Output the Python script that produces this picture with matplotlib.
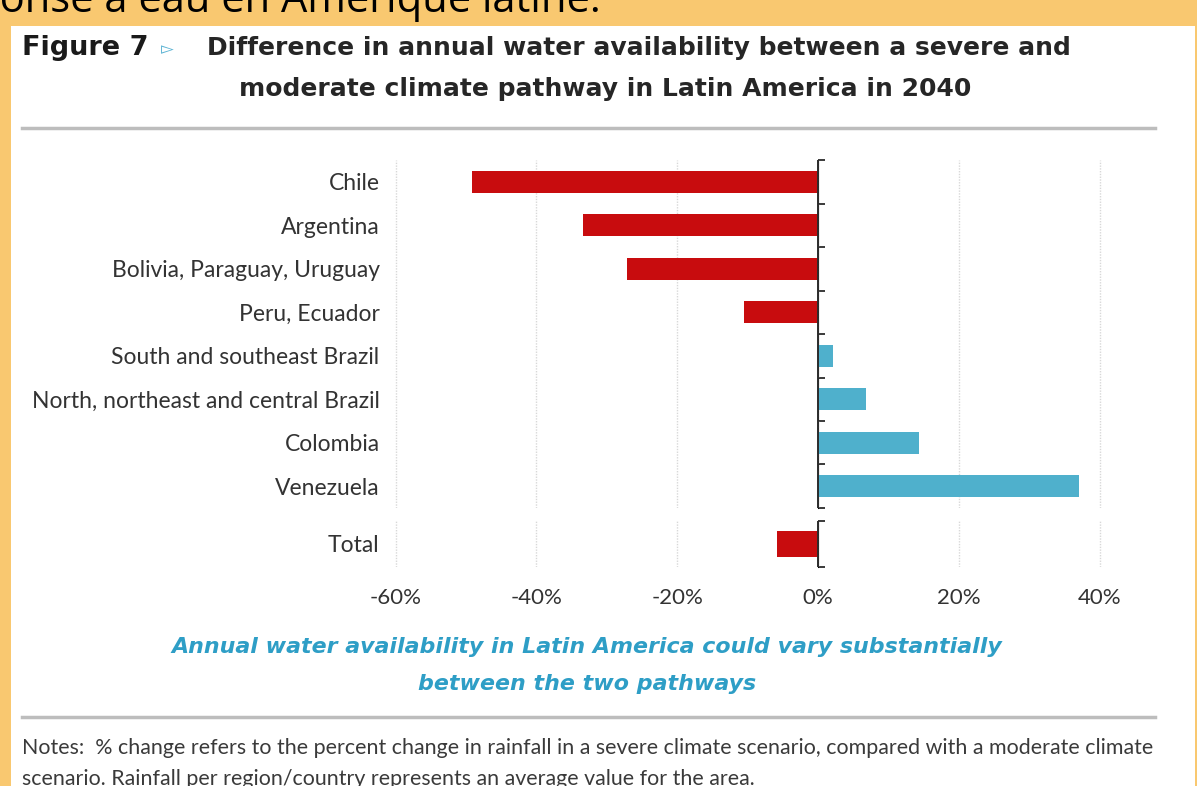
import matplotlib
matplotlib.use("Agg")
import matplotlib.pyplot as plt
from matplotlib.patches import Rectangle
from matplotlib.lines import Line2D
import numpy as np

categories = ["Chile", "Argentina", "Bolivia, Paraguay, Uruguay", "Peru, Ecuador",
              "South and southeast Brazil", "North, northeast and central Brazil",
              "Colombia", "Venezuela"]
values = [-49.2, -33.4, -27.2, -10.5, 2.1, 6.8, 14.4, 37.1]
total_label = "Total"
total_value = [-5.8]
xticks = [-60, -40, -20, 0, 20, 40]
xtick_labels = ["-60%", "-40%", "-20%", "0%", "20%", "40%"]

RED = "#C80C0E"
BLUE = "#4FB0CC"
ORANGE = "#F9C870"
W, H = 1197, 786

fig = plt.figure(figsize=(W / 100, H / 100), dpi=100)
fig.patch.set_facecolor(ORANGE)

def fx(px):
    return px / W

def fy(py):
    return 1 - py / H

# white panel
fig.patches.append(Rectangle((fx(11), 0), fx(1195 - 11), fy(26), transform=fig.transFigure,
                             facecolor="white", edgecolor="none", zorder=-5))

# cropped top text
fig.text(fx(-75), fy(1), "Réponse à eau en Amérique latine.", fontsize=30, color="black",
         family="Open Sans", va="center", ha="left", zorder=-4)

# title
fig.text(fx(22), fy(48), "Figure 7", fontsize=19.5, weight="heavy", family="DejaVu Sans",
         color="#1a1a1a", va="center", ha="left")
fig.text(fx(161), fy(49), "\u25BB", fontsize=12, family="DejaVu Sans", color="#5BB3D3",
         va="center", ha="left")
fig.text(fx(207), fy(48), "Difference in annual water availability between a severe and",
         fontsize=18, weight="bold", family="DejaVu Sans", color="#262626", va="center", ha="left")
fig.text(fx(605), fy(89), "moderate climate pathway in Latin America in 2040",
         fontsize=18, weight="bold", family="DejaVu Sans", color="#262626", va="center", ha="center")

# rules
fig.add_artist(Line2D([fx(22), fx(1155)], [fy(128), fy(128)], transform=fig.transFigure,
                      color="#BDBDBD", lw=2.5))
fig.add_artist(Line2D([fx(22), fx(1155)], [fy(717), fy(717)], transform=fig.transFigure,
                      color="#BDBDBD", lw=2.5))

XMIN, XMAX = -60.5, 41
scale = (1100 - 396) / 100.0
left_px = 818 + XMIN * scale
right_px = 818 + XMAX * scale

def make_ax(top_px, bot_px):
    return fig.add_axes([fx(left_px), fy(bot_px), fx(right_px - left_px), (bot_px - top_px) / H])

ax = make_ax(160, 508)
ax2 = make_ax(521, 567)

n = len(categories)
ypos = np.arange(n)
colors = [RED if v < 0 else BLUE for v in values]
ax.barh(ypos, values, height=0.5, color=colors, zorder=3)
ax.set_ylim(n - 0.5, -0.5)
ax.set_yticks(ypos)
ax.set_yticklabels(categories)

ax2.barh([0], total_value, height=0.58, color=[RED if v < 0 else BLUE for v in total_value], zorder=3)
ax2.set_ylim(0.5, -0.5)
ax2.set_yticks([0])
ax2.set_yticklabels([total_label])

for a in (ax, ax2):
    a.set_xlim(XMIN, XMAX)
    a.set_facecolor("none")
    for s in a.spines.values():
        s.set_visible(False)
    a.tick_params(axis="y", length=0, pad=9, labelsize=16.5, labelcolor="#333333")
    a.set_xticks(xticks)
    for t in a.get_yticklabels():
        t.set_family("Lato")
    a.grid(axis="x", color="#D8D8D8", lw=1.0, ls=(0, (1, 1)), zorder=0)
    a.axvline(0, color="#2b2b2b", lw=1.4, zorder=4)

ax.tick_params(axis="x", length=0, labelbottom=False)
ax2.tick_params(axis="x", length=0, pad=15, labelsize=16, labelcolor="#333333")
ax2.set_xticklabels(xtick_labels)
for t in ax2.get_xticklabels():
    t.set_family("Lato")

# boundary ticks on the zero line
zero_frac = (0 - XMIN) / (XMAX - XMIN)
for a, bounds in ((ax, np.arange(n + 1) - 0.5), (ax2, [-0.5, 0.5])):
    sec = a.secondary_yaxis(zero_frac)
    sec.spines["left"].set_visible(False)
    sec.set_yticks(bounds)
    sec.set_yticklabels([])
    sec.tick_params(axis="y", length=5, width=1.3, color="#2b2b2b", direction="out")

# subtitle
fig.text(fx(587), fy(647), "Annual water availability in Latin America could vary substantially",
         fontsize=15.9, weight="bold", style="italic", family="DejaVu Sans", color="#2E9EC6",
         va="center", ha="center")
fig.text(fx(587), fy(684), "between the two pathways",
         fontsize=15.9, weight="bold", style="italic", family="DejaVu Sans", color="#2E9EC6",
         va="center", ha="center")

# notes
fig.text(fx(22), fy(748),
         "Notes:  % change refers to the percent change in rainfall in a severe climate scenario, compared with a moderate climate",
         fontsize=15.4, family="Lato", color="#3a3a3a", va="center", ha="left")
fig.text(fx(22), fy(779),
         "scenario. Rainfall per region/country represents an average value for the area.",
         fontsize=15.4, family="Lato", color="#3a3a3a", va="center", ha="left")

fig.savefig("out.png", dpi=100, facecolor=fig.get_facecolor())
